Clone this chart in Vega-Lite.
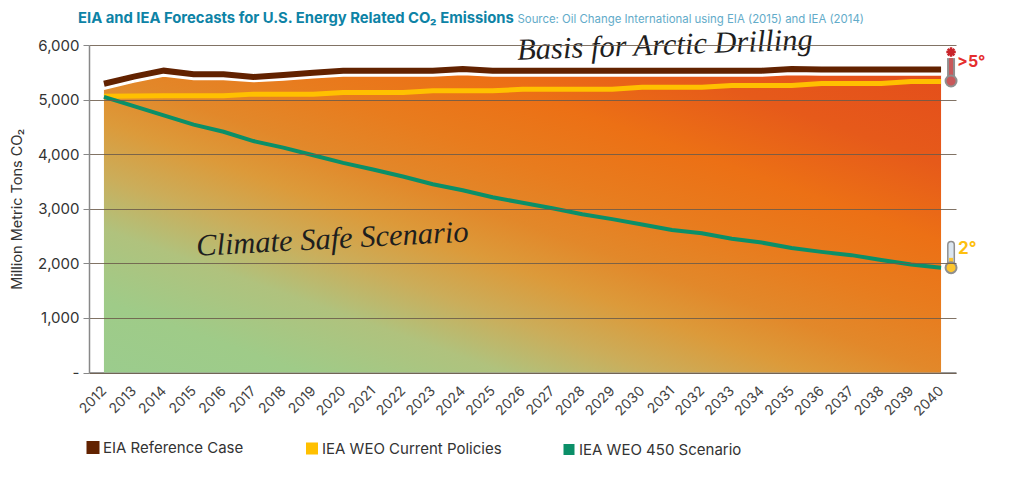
{
"$schema":"https://vega.github.io/schema/vega-lite/v6.json",
"width":867,"height":327.5,
"autosize":"none",
"padding":{"left":89,"top":45,"right":57,"bottom":107.5},
"background":"white",
"title":{"text":"EIA and IEA Forecasts for U.S. Energy Related CO₂ Emissions","anchor":"start","frame":"group","dx":-11,"offset":-11,"font":"Inter","fontSize":14.8,"fontWeight":"bold","color":"#0d83a6"},
"config":{"view":{"stroke":null}},
"datasets":{
"band":[
{"year":"2012","value":5190},{"year":"2013","value":5320},{"year":"2014","value":5430},{"year":"2015","value":5370},{"year":"2016","value":5370},{"year":"2017","value":5330},{"year":"2018","value":5360},{"year":"2019","value":5400},{"year":"2020","value":5430},{"year":"2021","value":5430},{"year":"2022","value":5430},{"year":"2023","value":5430},{"year":"2024","value":5460},{"year":"2025","value":5430},{"year":"2026","value":5430},{"year":"2027","value":5430},{"year":"2028","value":5430},{"year":"2029","value":5430},{"year":"2030","value":5430},{"year":"2031","value":5430},{"year":"2032","value":5430},{"year":"2033","value":5430},{"year":"2034","value":5430},{"year":"2035","value":5460},{"year":"2036","value":5450},{"year":"2037","value":5450},{"year":"2038","value":5450},{"year":"2039","value":5450},{"year":"2040","value":5450}],
"series":[
{"year":"2012","series":"EIA Reference Case","value":5290},{"year":"2013","series":"EIA Reference Case","value":5420},{"year":"2014","series":"EIA Reference Case","value":5530},{"year":"2015","series":"EIA Reference Case","value":5465},{"year":"2016","series":"EIA Reference Case","value":5465},{"year":"2017","series":"EIA Reference Case","value":5415},{"year":"2018","series":"EIA Reference Case","value":5450},{"year":"2019","series":"EIA Reference Case","value":5490},{"year":"2020","series":"EIA Reference Case","value":5530},{"year":"2021","series":"EIA Reference Case","value":5530},{"year":"2022","series":"EIA Reference Case","value":5530},{"year":"2023","series":"EIA Reference Case","value":5530},{"year":"2024","series":"EIA Reference Case","value":5560},{"year":"2025","series":"EIA Reference Case","value":5530},{"year":"2026","series":"EIA Reference Case","value":5530},{"year":"2027","series":"EIA Reference Case","value":5530},{"year":"2028","series":"EIA Reference Case","value":5530},{"year":"2029","series":"EIA Reference Case","value":5530},{"year":"2030","series":"EIA Reference Case","value":5530},{"year":"2031","series":"EIA Reference Case","value":5530},{"year":"2032","series":"EIA Reference Case","value":5530},{"year":"2033","series":"EIA Reference Case","value":5530},{"year":"2034","series":"EIA Reference Case","value":5530},{"year":"2035","series":"EIA Reference Case","value":5560},{"year":"2036","series":"EIA Reference Case","value":5550},{"year":"2037","series":"EIA Reference Case","value":5550},{"year":"2038","series":"EIA Reference Case","value":5550},{"year":"2039","series":"EIA Reference Case","value":5550},{"year":"2040","series":"EIA Reference Case","value":5550},
{"year":"2012","series":"IEA WEO Current Policies","value":5060},{"year":"2013","series":"IEA WEO Current Policies","value":5065},{"year":"2014","series":"IEA WEO Current Policies","value":5070},{"year":"2015","series":"IEA WEO Current Policies","value":5070},{"year":"2016","series":"IEA WEO Current Policies","value":5070},{"year":"2017","series":"IEA WEO Current Policies","value":5100},{"year":"2018","series":"IEA WEO Current Policies","value":5100},{"year":"2019","series":"IEA WEO Current Policies","value":5100},{"year":"2020","series":"IEA WEO Current Policies","value":5130},{"year":"2021","series":"IEA WEO Current Policies","value":5130},{"year":"2022","series":"IEA WEO Current Policies","value":5130},{"year":"2023","series":"IEA WEO Current Policies","value":5160},{"year":"2024","series":"IEA WEO Current Policies","value":5160},{"year":"2025","series":"IEA WEO Current Policies","value":5160},{"year":"2026","series":"IEA WEO Current Policies","value":5190},{"year":"2027","series":"IEA WEO Current Policies","value":5190},{"year":"2028","series":"IEA WEO Current Policies","value":5190},{"year":"2029","series":"IEA WEO Current Policies","value":5190},{"year":"2030","series":"IEA WEO Current Policies","value":5225},{"year":"2031","series":"IEA WEO Current Policies","value":5225},{"year":"2032","series":"IEA WEO Current Policies","value":5225},{"year":"2033","series":"IEA WEO Current Policies","value":5260},{"year":"2034","series":"IEA WEO Current Policies","value":5260},{"year":"2035","series":"IEA WEO Current Policies","value":5260},{"year":"2036","series":"IEA WEO Current Policies","value":5295},{"year":"2037","series":"IEA WEO Current Policies","value":5295},{"year":"2038","series":"IEA WEO Current Policies","value":5295},{"year":"2039","series":"IEA WEO Current Policies","value":5330},{"year":"2040","series":"IEA WEO Current Policies","value":5330},
{"year":"2012","series":"IEA WEO 450 Scenario","value":5050},{"year":"2013","series":"IEA WEO 450 Scenario","value":4880},{"year":"2014","series":"IEA WEO 450 Scenario","value":4710},{"year":"2015","series":"IEA WEO 450 Scenario","value":4540},{"year":"2016","series":"IEA WEO 450 Scenario","value":4410},{"year":"2017","series":"IEA WEO 450 Scenario","value":4240},{"year":"2018","series":"IEA WEO 450 Scenario","value":4120},{"year":"2019","series":"IEA WEO 450 Scenario","value":3980},{"year":"2020","series":"IEA WEO 450 Scenario","value":3840},{"year":"2021","series":"IEA WEO 450 Scenario","value":3720},{"year":"2022","series":"IEA WEO 450 Scenario","value":3590},{"year":"2023","series":"IEA WEO 450 Scenario","value":3450},{"year":"2024","series":"IEA WEO 450 Scenario","value":3340},{"year":"2025","series":"IEA WEO 450 Scenario","value":3210},{"year":"2026","series":"IEA WEO 450 Scenario","value":3110},{"year":"2027","series":"IEA WEO 450 Scenario","value":3010},{"year":"2028","series":"IEA WEO 450 Scenario","value":2900},{"year":"2029","series":"IEA WEO 450 Scenario","value":2810},{"year":"2030","series":"IEA WEO 450 Scenario","value":2710},{"year":"2031","series":"IEA WEO 450 Scenario","value":2610},{"year":"2032","series":"IEA WEO 450 Scenario","value":2550},{"year":"2033","series":"IEA WEO 450 Scenario","value":2450},{"year":"2034","series":"IEA WEO 450 Scenario","value":2380},{"year":"2035","series":"IEA WEO 450 Scenario","value":2280},{"year":"2036","series":"IEA WEO 450 Scenario","value":2210},{"year":"2037","series":"IEA WEO 450 Scenario","value":2150},{"year":"2038","series":"IEA WEO 450 Scenario","value":2060},{"year":"2039","series":"IEA WEO 450 Scenario","value":1980},{"year":"2040","series":"IEA WEO 450 Scenario","value":1920}]
},
"encoding":{
"x":{"field":"year","type":"ordinal","scale":{"type":"point","padding":0.5},"axis":{"title":null,"labelAngle":-45,"labelAlign":"right","labelBaseline":"middle","labelFont":"Inter","labelFontSize":14,"labelColor":"#444","labelPadding":16,"ticks":false,"domainColor":"#999","domainWidth":2,"grid":false}},
"y":{"field":"value","type":"quantitative","scale":{"domain":[0,6000],"nice":false},"axis":{"title":"Million Metric Tons CO₂","titleFont":"Inter","titleFontSize":14.5,"titleFontWeight":"normal","titleColor":"#333","titlePadding":13,"values":[0,1000,2000,3000,4000,5000,6000],"labelExpr":"datum.value==0?'-':format(datum.value,',')","labelFont":"Inter","labelFontSize":15,"labelColor":"#333","labelPadding":4,"tickSize":6,"tickColor":"#888","domainColor":"#888","domainWidth":1.5,"grid":true,"gridColor":"#6b5a4a","gridOpacity":0.85,"gridWidth":1,"zindex":1}}
},
"layer":[
{"data":{"name":"band"},"mark":{"type":"area","color":{"gradient":"linear","x1":0,"y1":1,"x2":1,"y2":0,"stops":[{"offset":0,"color":"#9bcc8d"},{"offset":0.12,"color":"#9fcb88"},{"offset":0.24,"color":"#b0c27d"},{"offset":0.33,"color":"#cbad5a"},{"offset":0.42,"color":"#dc9a3a"},{"offset":0.5,"color":"#e2882a"},{"offset":0.6,"color":"#e87c1e"},{"offset":0.72,"color":"#ec7015"},{"offset":0.85,"color":"#e65a1a"},{"offset":1,"color":"#e44e1b"}]}}},
{"data":{"name":"band"},"mark":{"type":"line","color":"#ffffff","strokeWidth":1.5}},
{"data":{"name":"series"},"mark":{"type":"line","clip":false},
 "encoding":{
  "order":{"field":"year"},
  "strokeWidth":{"field":"series","type":"nominal","scale":{"domain":["EIA Reference Case","IEA WEO Current Policies","IEA WEO 450 Scenario"],"range":[6,4,4]},"legend":null},
  "color":{"field":"series","type":"nominal","sort":["EIA Reference Case","IEA WEO Current Policies","IEA WEO 450 Scenario"],
   "scale":{"domain":["EIA Reference Case","IEA WEO Current Policies","IEA WEO 450 Scenario"],"range":["#622200","#ffc000","#0b8f68"]},
   "legend":{"title":null,"orient":"none","legendX":-3.5,"legendY":395,"direction":"horizontal","columns":3,"columnPadding":55,"symbolType":"square","symbolSize":49,"symbolStrokeWidth":0,"labelFont":"Inter","labelFontSize":15,"labelColor":"#333","labelOffset":2.5,"labelLimit":300,"encode":{"symbols":{"update":{"fill":{"scale":"color","field":"value"}}}}}}
 }},
{"data":{"values":[{"year":"2040","value":2340,"value2":1920,"kind":"cool"}]},"mark":{"type":"rule","xOffset":10,"strokeWidth":8,"strokeCap":"round","color":"#8f8f8f","clip":false},"encoding":{"y2":{"field":"value2"}}},
{"data":{"values":[{"year":"2040","value":2340,"value2":1920}]},"mark":{"type":"rule","xOffset":10,"strokeWidth":5,"strokeCap":"round","color":"#dbe6f0","clip":false},"encoding":{"y2":{"field":"value2"}}},
{"data":{"values":[{"year":"2040","value":2100,"value2":1920}]},"mark":{"type":"rule","xOffset":10,"strokeWidth":4,"color":"#fdc52d","clip":false},"encoding":{"y2":{"field":"value2"}}},
{"data":{"values":[{"year":"2040","value":1920}]},"mark":{"type":"point","xOffset":10,"shape":"circle","filled":true,"opacity":1,"size":120,"color":"#fdc52d","stroke":"#8f8f8f","strokeWidth":2,"clip":false}},
{"data":{"values":[{"year":"2040","value":5760,"value2":5340}]},"mark":{"type":"rule","xOffset":10,"strokeWidth":8,"color":"#8f8f8f","clip":false},"encoding":{"y2":{"field":"value2"}}},
{"data":{"values":[{"year":"2040","value":5760,"value2":5340}]},"mark":{"type":"rule","xOffset":10,"strokeWidth":4,"color":"#c8585a","clip":false},"encoding":{"y2":{"field":"value2"}}},
{"data":{"values":[{"year":"2040","value":5340}]},"mark":{"type":"point","xOffset":10,"shape":"circle","filled":true,"opacity":1,"size":120,"color":"#c8585a","stroke":"#8f8f8f","strokeWidth":2,"clip":false}},
{"data":{"values":[{"year":"2040","value":5870}]},"mark":{"type":"point","xOffset":10,"shape":"M-1,0L1,0M0,-1L0,1M-.7,-.7L.7,.7M-.7,.7L.7,-.7","size":90,"stroke":"#c9252b","strokeWidth":2.5,"filled":false,"opacity":1,"clip":false}},
{"data":{"values":[{"year":"2040","value":5690,"label":">5°"}]},"mark":{"type":"text","align":"left","baseline":"middle","dx":16,"font":"Inter","fontSize":16,"fontWeight":"bold","color":"#e52e2e","clip":false},"encoding":{"text":{"field":"label"}}},
{"data":{"values":[{"year":"2040","value":2270,"label":"2°"}]},"mark":{"type":"text","align":"left","baseline":"middle","dx":17,"font":"Inter","fontSize":17,"fontWeight":"bold","color":"#fdc010","clip":false},"encoding":{"text":{"field":"label"}}},
{"data":{"values":[{"year":"2026","value":5733,"label":"Basis for Arctic Drilling"}]},"mark":{"type":"text","align":"left","baseline":"alphabetic","dx":-5,"angle":358,"font":"Liberation Serif","fontStyle":"italic","fontSize":30.5,"color":"#1e1e1e","clip":false},"encoding":{"text":{"field":"label"}}},
{"data":{"values":[{"year":"2015","value":2137,"label":"Climate Safe Scenario"}]},"mark":{"type":"text","align":"left","baseline":"alphabetic","dx":3,"angle":357,"font":"Liberation Serif","fontStyle":"italic","fontSize":30.5,"color":"#1e1e1e","clip":false},"encoding":{"text":{"field":"label"}}},
{"data":{"values":[{"year":"2026","value":6395,"label":"Source: Oil Change International using EIA (2015) and IEA (2014)"}]},"mark":{"type":"text","align":"left","baseline":"alphabetic","dx":-5,"font":"Inter","fontSize":11.4,"color":"#62abc9","clip":false},"encoding":{"text":{"field":"label"}}}
]
}
